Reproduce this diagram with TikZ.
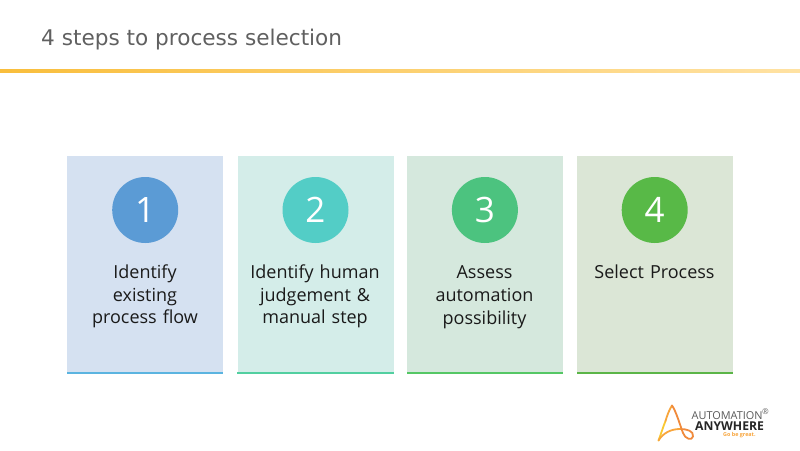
\documentclass[tikz,border=0pt]{standalone}
\usepackage{fontspec}
\setmainfont{Open Sans}
\newfontfamily\titlefont{DejaVu Sans}
\usetikzlibrary{calc}
\definecolor{titlegray}{HTML}{606060}
\definecolor{bodyblack}{HTML}{1A1A1A}
\definecolor{ruleA}{HTML}{F9BE3C}
\definecolor{ruleB}{HTML}{FFE2A3}
\definecolor{logoyellow}{HTML}{F9C832}
\definecolor{logomid}{HTML}{F8A53C}
\definecolor{logoorange}{HTML}{F08A3C}
\tikzset{
  x=1pt,y=-1pt,
  card/.style={draw=none,minimum width=156pt,minimum height=218pt,inner sep=0pt,anchor=north west},
  badge/.style={circle,minimum size=66pt,inner sep=0pt,text=white,font=\fontsize{35}{35}\selectfont},
  cardtext/.style={text=bodyblack,align=center,text width=150pt,anchor=north,font=\fontsize{18}{22.8}\selectfont},
}
\begin{document}
\begin{tikzpicture}
\useasboundingbox (0,0) rectangle (800,450);
\fill[white] (0,0) rectangle (800,450);
\node[anchor=west,text=titlegray,inner sep=0pt,font=\titlefont\fontsize{21.6}{24}\selectfont] (title) at (41,40) {4 steps to process selection};
\shade[left color=ruleA,right color=ruleB] (0,69) rectangle (800,72);
% cards
\foreach \n/\xx/\fillc/\linec/\circc in {1/67/D5E1F1/5BB4E0/5B9BD5,2/237.3/D4EDE9/52CFA0/53CDC6,3/406.7/D5E8DD/55C765/4CC37F,4/576.5/DBE6D6/5BB548/58B947}{
  \definecolor{cardfill}{HTML}{\fillc}\definecolor{barcolor}{HTML}{\linec}\definecolor{badgecolor}{HTML}{\circc}
  \node[card,fill=cardfill] (card\n) at (\xx,155.5) {};
  \fill[barcolor] ($(card\n.south west)+(0,-1.6)$) rectangle ($(card\n.south east)+(0,-0.2)$);
  \node[badge,fill=badgecolor] (badge\n) at ($(card\n.north)+(0,54.5)$) {\n};
}
\node[cardtext] (text1) at (145,261) {Identify\\existing\\process flow};
\node[cardtext] (text2) at (315,261) {Identify human\\judgement \&\\manual step};
\node[cardtext] (text3) at (484.5,262) {Assess\\automation\\possibility};
\node[cardtext] (text4) at (654.5,261) {Select Process};
% logo
\begin{scope}[line width=1.8pt,line cap=round,line join=round]
\draw[draw=logoyellow] (658.5,440.5) .. controls (661,434) and (663,427) .. (665.5,421);
\draw[draw=logomid] (665.5,421) .. controls (667,416) and (669,410) .. (672,405.5);
\draw[draw=logoorange] (672,405.5) .. controls (676,411) and (680,425) .. (683,433);
\draw[draw=logoorange] (683,433) .. controls (685,439) and (692,441) .. (693,436.5) .. controls (694,431) and (687,429) .. (680,429);
\draw[draw=logomid] (680,429) .. controls (671,429) and (663,433) .. (658.5,440.5);
\end{scope}
\node[inner sep=0pt,anchor=west,text=black!65,font=\fontsize{10.9}{12}\selectfont] (logoa) at (691.5,416) {AUTOMATION};
\node[inner sep=0pt,anchor=west,text=black!85,font=\bfseries\fontsize{12.2}{12}\selectfont] (logob) at (695,426) {ANYWHERE};
\node[inner sep=0pt,anchor=west,text=logomid,font=\bfseries\fontsize{5.4}{6}\selectfont] (logoc) at (723,435.5) {Go be great.};
\node[inner sep=0pt,text=black!60,font=\fontsize{8}{8}\selectfont] (logod) at (765.5,411.5) {®};
\end{tikzpicture}
\end{document}
